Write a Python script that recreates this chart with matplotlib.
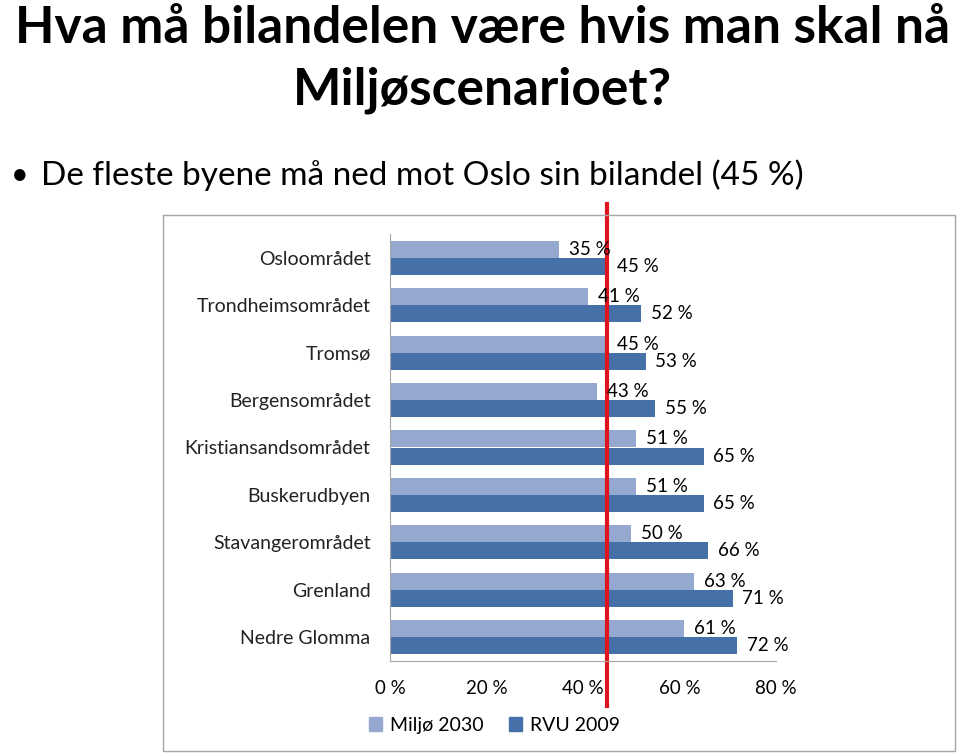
import matplotlib.pyplot as plt
from matplotlib.patches import Rectangle

plt.rcParams['font.family'] = ['Lato', 'DejaVu Sans']

regions = ["Osloområdet", "Trondheimsområdet", "Tromsø", "Bergensområdet",
           "Kristiansandsområdet", "Buskerudbyen", "Stavangerområdet",
           "Grenland", "Nedre Glomma"]
miljo_2030 = [35, 41, 45, 43, 51, 51, 50, 63, 61]
rvu_2009 = [45, 52, 53, 55, 65, 65, 66, 71, 72]
oslo_share = 45
xticks = [0, 20, 40, 60, 80]

light = '#94A8D0'
dark = '#4571A8'

fig = plt.figure(figsize=(9.6, 7.53), dpi=100)

# title and bullet text
fig.text(0.503, 0.962, "Hva må bilandelen være hvis man skal nå", ha='center', va='center',
         fontsize=37, fontweight='bold')
fig.text(0.503, 0.880, "Miljøscenarioet?", ha='center', va='center',
         fontsize=37, fontweight='bold')
fig.text(0.011, 0.767, "•", ha='left', va='center', fontsize=22)
fig.text(0.043, 0.767, "De fleste byene må ned mot Oslo sin bilandel (45 %)",
         ha='left', va='center', fontsize=24)

# chart frame
fig.add_artist(Rectangle((163 / 960, 1 - 751 / 753), 792 / 960, 536 / 753,
                         transform=fig.transFigure, fill=False, edgecolor='#A6A6A6', lw=1))

ax = fig.add_axes([390 / 960, 1 - 661 / 753, 386 / 960, 427 / 753])
n = len(regions)
ypos = list(range(n))
h = 0.36
ax.barh([y - h / 2 for y in ypos], miljo_2030, height=h, color=light, label='Miljø 2030')
ax.barh([y + h / 2 for y in ypos], rvu_2009, height=h, color=dark, label='RVU 2009')

for y, v in zip(ypos, miljo_2030):
    ax.annotate(f"{v} %", (v, y - h / 2), xytext=(7, 0), textcoords='offset points',
                va='center', ha='left', fontsize=13.5)
for y, v in zip(ypos, rvu_2009):
    ax.annotate(f"{v} %", (v, y + h / 2), xytext=(7, 0), textcoords='offset points',
                va='center', ha='left', fontsize=13.5)

ax.set_ylim(n - 0.5, -0.5)
ax.set_xlim(0, 80)
ax.set_yticks(ypos)
ax.set_yticklabels(regions, fontsize=14, color='#222222')
ax.set_xticks(xticks)
ax.set_xticklabels([f"{t} %" for t in xticks], fontsize=13.5)
ax.tick_params(axis='both', length=0)
ax.tick_params(axis='y', pad=14)
ax.tick_params(axis='x', pad=14)
for s in ['top', 'right']:
    ax.spines[s].set_visible(False)
ax.spines['left'].set_color('#A6A6A6')
ax.spines['bottom'].set_color('#A6A6A6')

# red reference line at Oslo's share
ax.axvline(oslo_share, ymin=-0.105, ymax=1.07, color='#E0141E', lw=3, clip_on=False)

handles = [Rectangle((0, 0), 1, 1, color=light), Rectangle((0, 0), 1, 1, color=dark)]
fig.legend(handles, ['Miljø 2030', 'RVU 2009'], loc='center', bbox_to_anchor=(0.515, 0.037),
           ncol=2, frameon=False, fontsize=14, handlelength=0.7, handleheight=0.7,
           handletextpad=0.4, columnspacing=1.3)

fig.savefig('out.png', dpi=100)
